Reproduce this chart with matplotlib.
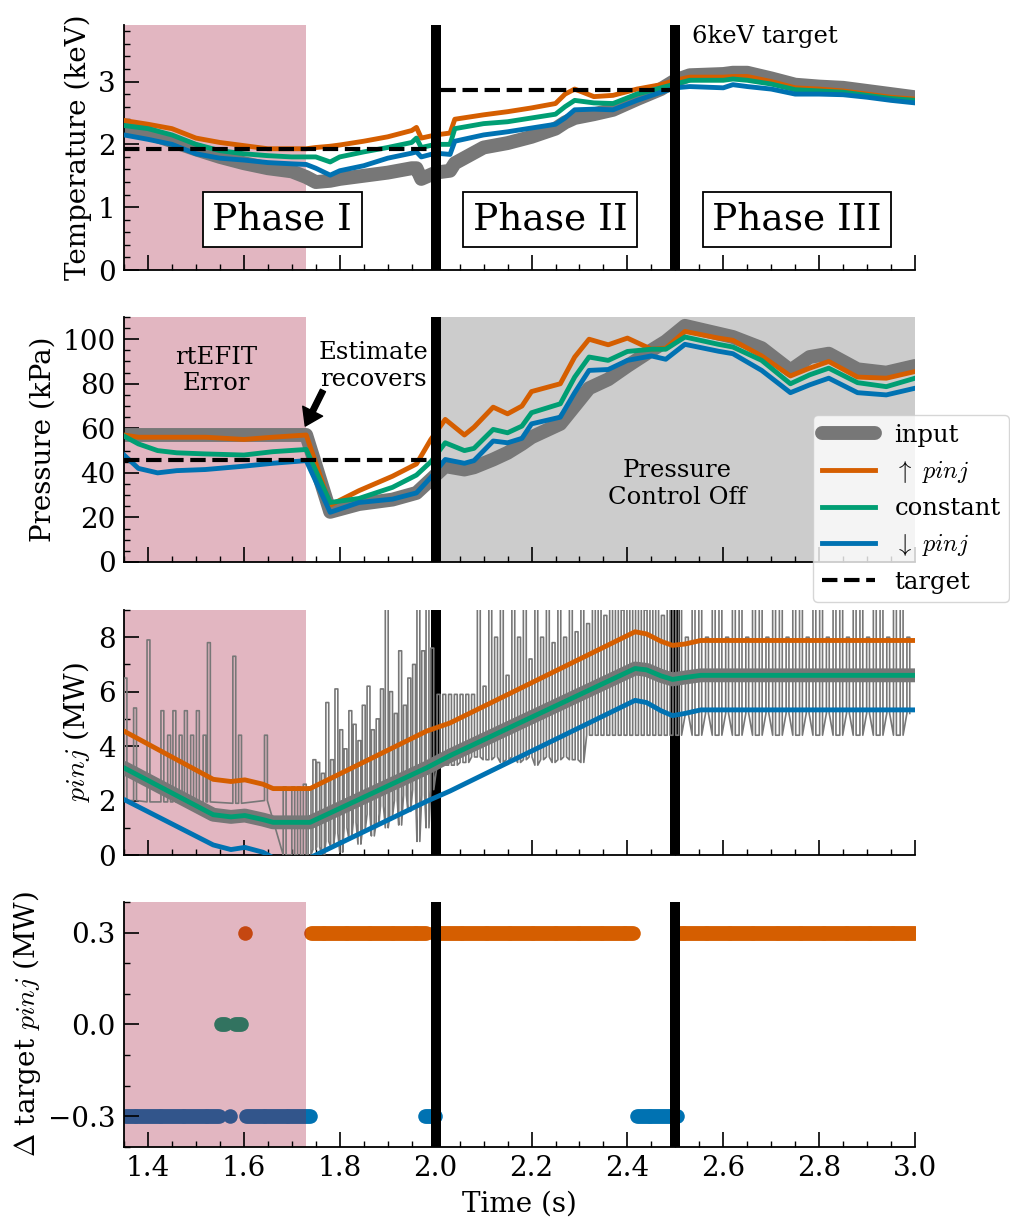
import numpy as np
import matplotlib.pyplot as plt
from matplotlib.ticker import MultipleLocator

plt.rcParams['font.family'] = ['DejaVu Serif']
plt.rcParams['mathtext.fontset'] = 'cm'

C_UP = '#d55e00'
C_CONST = '#009e73'
C_DOWN = '#0072b2'
C_IN = '#777777'
PINK = '#a21637'

# ---- temperature (keV)
t_T = [1.35, 1.40, 1.45, 1.50, 1.55, 1.60, 1.65, 1.70, 1.73, 1.75, 1.78, 1.80, 1.85, 1.90,
       1.95, 1.96, 1.97, 2.00, 2.03, 2.04, 2.10, 2.15, 2.20, 2.25, 2.27, 2.29, 2.33, 2.37,
       2.42, 2.47, 2.50, 2.53, 2.60, 2.62, 2.65, 2.70, 2.75, 2.80, 2.85, 2.90, 2.95, 3.00]
T_input = [2.25, 2.18, 2.05, 1.92, 1.80, 1.70, 1.62, 1.57, 1.48, 1.40, 1.42, 1.45, 1.50, 1.55,
           1.62, 1.62, 1.45, 1.55, 1.58, 1.70, 1.95, 2.02, 2.12, 2.25, 2.35, 2.42, 2.48, 2.55,
           2.72, 2.88, 3.02, 3.10, 3.12, 3.14, 3.14, 3.05, 2.95, 2.92, 2.90, 2.85, 2.80, 2.75]
T_up = [2.38, 2.32, 2.25, 2.10, 2.03, 1.98, 1.93, 1.93, 1.93, 1.95, 1.97, 1.99, 2.05, 2.12,
        2.22, 2.27, 2.10, 2.15, 2.18, 2.40, 2.47, 2.52, 2.58, 2.65, 2.80, 2.88, 2.76, 2.78,
        2.88, 2.95, 3.02, 3.07, 3.07, 3.08, 3.08, 3.00, 2.90, 2.88, 2.85, 2.80, 2.75, 2.72]
T_const = [2.30, 2.25, 2.15, 2.00, 1.90, 1.85, 1.82, 1.80, 1.80, 1.80, 1.72, 1.80, 1.88, 1.95,
           2.03, 2.10, 1.95, 2.00, 2.00, 2.25, 2.33, 2.36, 2.42, 2.48, 2.60, 2.70, 2.66, 2.65,
           2.80, 2.90, 2.96, 3.02, 3.02, 3.04, 3.02, 2.96, 2.87, 2.85, 2.83, 2.78, 2.73, 2.70]
T_down = [2.15, 2.08, 2.00, 1.85, 1.78, 1.75, 1.71, 1.69, 1.68, 1.62, 1.51, 1.58, 1.66, 1.78,
          1.86, 1.88, 1.80, 1.86, 1.84, 2.05, 2.15, 2.20, 2.26, 2.32, 2.42, 2.55, 2.56, 2.55,
          2.70, 2.83, 2.90, 2.92, 2.90, 2.95, 2.92, 2.88, 2.80, 2.80, 2.79, 2.75, 2.70, 2.66]
T_target_t = [1.35, 2.0, 2.0, 2.5]
T_target = [1.93, 1.93, 2.87, 2.87]

# ---- pressure (kPa)
t_P = [1.35, 1.38, 1.42, 1.46, 1.52, 1.60, 1.66, 1.73, 1.78, 1.84, 1.91, 1.96, 1.99, 2.02,
       2.06, 2.08, 2.12, 2.15, 2.18, 2.20, 2.26, 2.29, 2.32, 2.36, 2.40, 2.45, 2.48, 2.52,
       2.59, 2.62, 2.68, 2.74, 2.78, 2.82, 2.88, 2.94, 3.00]
P_input = [57, 57, 57, 57, 57, 57, 57, 57, 22.5, 26, 28, 31, 37, 43,
           41.5, 42.5, 46, 49, 53, 56, 62, 70, 78, 82, 88, 95, 99, 106,
           102.5, 101, 96, 86, 92, 93.5, 86.5, 85, 88]
P_up = [57, 56, 56, 56, 56, 55, 56, 57, 25.5, 32, 38.5, 44, 55, 64,
        57, 60.5, 69.5, 66.5, 70, 76.5, 80, 92, 100, 97.5, 100.5, 95.5, 96, 103.5,
        100.5, 99.5, 92.5, 83.5, 87, 90, 83, 82.5, 85.5]
P_const = [56.5, 53, 50, 49, 48.5, 48, 49.5, 50.5, 26.7, 28.5, 33.5, 39, 45, 53.5,
           50, 51, 59.5, 58, 61, 67, 71, 83, 92, 90.5, 94.5, 95.5, 95.5, 101,
           97.7, 96.5, 90.5, 80, 84, 87, 80.5, 78.7, 82.5]
P_down = [48, 42, 40, 41, 41.5, 43, 44.3, 45.5, 22.3, 26.7, 28.2, 31, 38, 46,
          44.3, 45.5, 54.3, 53.5, 55.5, 62, 65, 76, 86, 86.4, 90.5, 92.5, 91, 97.7,
          94.6, 93.5, 86, 76, 79.5, 82.5, 76, 75, 78]
P_target_t = [1.35, 2.0]
P_target = [45.7, 45.7]

# ---- injected power (MW)
t_pinj = [1.35, 1.536, 1.573, 1.602, 1.64, 1.661, 1.738, 1.981, 2.03, 2.416, 2.44, 2.47,
          2.494, 2.52, 2.553, 3.0]
pinj_up = [4.55, 2.78, 2.70, 2.76, 2.60, 2.44, 2.44, 4.55, 4.85, 8.20, 8.12, 7.85,
           7.70, 7.75, 7.88, 7.88]
pinj_const = [3.20, 1.48, 1.40, 1.45, 1.30, 1.20, 1.20, 3.20, 3.65, 6.85, 6.80, 6.58,
              6.45, 6.52, 6.60, 6.60]
pinj_input = [3.20, 1.48, 1.40, 1.45, 1.30, 1.20, 1.20, 3.20, 3.65, 6.85, 6.80, 6.58,
              6.45, 6.52, 6.60, 6.60]
pinj_down = [2.04, 0.37, 0.20, 0.28, 0.10, -0.10, -0.10, 1.97, 2.35, 5.68, 5.60, 5.30,
             5.12, 5.20, 5.33, 5.33]

# measured beam power: pulses (on time, high level, low level)
pulse_on = [1.350, 1.370, 1.398, 1.427, 1.441, 1.452, 1.465, 1.476, 1.489, 1.501, 1.515, 1.524,
            1.577, 1.589, 1.643, 1.682, 1.700, 1.712, 1.724, 1.734,
            1.744, 1.752, 1.762, 1.771, 1.781, 1.790, 1.800, 1.809, 1.819, 1.828, 1.838, 1.847,
            1.857, 1.866, 1.876, 1.885, 1.895, 1.904, 1.914, 1.923, 1.933, 1.942, 1.952, 1.961,
            1.971, 1.980, 1.990,
            2.003, 2.015, 2.027, 2.039, 2.051, 2.063, 2.075, 2.087, 2.099, 2.111, 2.123, 2.135,
            2.147, 2.159, 2.171, 2.183, 2.195, 2.207, 2.219, 2.231, 2.243, 2.255, 2.267, 2.279,
            2.291, 2.303, 2.315, 2.327, 2.339, 2.351, 2.363, 2.375, 2.387, 2.399, 2.411, 2.423,
            2.435, 2.447, 2.459, 2.471, 2.483, 2.495,
            2.507, 2.521, 2.535, 2.549, 2.563, 2.577, 2.591, 2.605, 2.619, 2.633, 2.647, 2.661,
            2.675, 2.689, 2.703, 2.717, 2.731, 2.745, 2.759, 2.773, 2.787, 2.801, 2.815, 2.829,
            2.843, 2.857, 2.871, 2.885, 2.899, 2.913, 2.927, 2.941, 2.955, 2.969, 2.983]
pulse_hi = [6.5, 5.4, 7.9, 5.3, 4.4, 5.3, 4.4, 5.3, 4.4, 5.3, 4.4, 7.8,
            7.3, 4.4, 4.4, 2.5, 2.5, 2.5, 2.6, 2.5,
            3.5, 3.4, 3.0, 5.6, 3.5, 6.1, 4.6, 3.9, 5.3, 4.8, 4.2, 5.5,
            6.2, 4.6, 5.0, 6.1, 9.5, 6.0, 5.2, 7.5, 5.5, 6.5, 7.0, 9.5,
            7.5, 9.5, 7.6,
            5.9, 5.9, 5.9, 5.9, 5.9, 5.9, 5.9, 9.5, 6.2, 9.5, 8.0, 9.5,
            6.6, 9.5, 8.0, 9.5, 7.2, 9.5, 8.0, 9.5, 7.8, 9.5, 8.0, 9.5,
            8.2, 9.5, 8.5, 9.5, 9.5, 8.8, 9.5, 9.5, 9.0, 9.5, 9.5, 9.5,
            9.0, 9.5, 9.5, 8.8, 9.5, 9.5,
            9.5, 8.0, 9.5, 9.5, 8.0, 9.5, 9.5, 8.0, 9.5, 9.5, 8.0, 9.5,
            9.5, 8.0, 9.5, 9.5, 8.0, 9.5, 9.5, 8.0, 9.5, 9.5, 8.0, 9.5,
            9.5, 8.0, 9.5, 9.5, 8.0, 9.5, 9.5, 8.0, 9.5, 9.5, 8.0]
pulse_lo = [2.0, 2.0, 1.95, 1.95, 1.95, 1.95, 1.95, 1.95, 1.95, 1.95, 1.95, 1.95,
            1.9, 1.9, 2.0, 0.0, 0.0, 0.0, 0.0, 0.0,
            0.2, 0.3, 0.0, 0.5, 0.3, 0.8, 0.1, 1.0, 0.6, 1.2, 0.4, 0.9,
            1.5, 0.7, 1.2, 1.8, 1.0, 1.4, 2.0, 1.1, 2.2, 1.6, 2.4, 0.5,
            2.2, 1.0, 2.4,
            3.3, 3.3, 3.3, 3.3, 3.4, 3.4, 3.6, 3.6, 3.5, 3.5, 3.6, 3.4,
            3.5, 3.6, 3.4, 3.5, 3.6, 3.3, 3.5, 3.6, 3.4, 3.5, 3.6, 3.5,
            3.5, 3.4, 4.4, 4.4, 4.4, 4.4, 4.4, 4.4, 4.4, 4.4, 4.4, 4.4,
            4.4, 4.4, 4.4, 4.4, 4.4, 4.4,
            4.4, 5.2, 4.4, 4.4, 5.2, 4.4, 4.4, 5.2, 4.4, 4.4, 5.2, 4.4,
            4.4, 5.2, 4.4, 4.4, 5.2, 4.4, 4.4, 5.2, 4.4, 4.4, 5.2, 4.4,
            4.4, 5.2, 4.4, 4.4, 5.2, 4.4, 4.4, 5.2, 4.4, 4.4, 5.2]
pulse_len = 0.006

# ---- change in target pinj: runs of (start, end, value)
run_start = [1.352, 1.571, 1.605, 1.553, 1.582, 1.602, 1.740, 1.978, 1.996, 2.420, 2.503]
run_end = [1.548, 1.571, 1.738, 1.562, 1.594, 1.602, 1.982, 1.998, 2.414, 2.504, 3.000]
run_val = [-0.3, -0.3, -0.3, 0.0, 0.0, 0.3, 0.3, -0.3, 0.3, -0.3, 0.3]
step_dt = 0.004

fig = plt.figure(figsize=(10.1, 12.19), dpi=100)
ax1 = fig.add_axes([0.1228, 0.7785, 0.7832, 0.201])
ax2 = fig.add_axes([0.1228, 0.5390, 0.7832, 0.201])
ax3 = fig.add_axes([0.1228, 0.2986, 0.7832, 0.201])
ax4 = fig.add_axes([0.1228, 0.0591, 0.7832, 0.201])
axes = [ax1, ax2, ax3, ax4]

TXT = 17.5
for ax in axes:
    ax.set_xlim(1.35, 3.0)
    ax.spines['top'].set_visible(False)
    ax.spines['right'].set_visible(False)
    for s in ['left', 'bottom']:
        ax.spines[s].set_linewidth(1.3)
    ax.xaxis.set_major_locator(MultipleLocator(0.2))
    ax.xaxis.set_minor_locator(MultipleLocator(0.05))
    ax.tick_params(which='both', direction='in', labelsize=20, pad=6)
    ax.tick_params(which='major', length=11, width=1.2)
    ax.tick_params(which='minor', length=4.5, width=1.0)
    if ax is not ax4:
        ax.tick_params(labelbottom=False)
    ax.axvspan(1.35, 1.73, color=PINK, alpha=0.31, lw=0, zorder=1)

# temperature
ax1.plot(t_T, T_input, color=C_IN, lw=10, solid_capstyle='round', zorder=2)
ax1.plot(t_T, T_up, color=C_UP, lw=3.5, zorder=3)
ax1.plot(t_T, T_const, color=C_CONST, lw=3.5, zorder=3)
ax1.plot(t_T, T_down, color=C_DOWN, lw=3.5, zorder=3)
ax1.plot(T_target_t, T_target, 'k--', lw=3, zorder=3)
for x in [2.0, 2.5]:
    ax1.axvline(x, color='k', lw=7.2, zorder=5)
ax1.set_ylim(0, 3.9)
ax1.yaxis.set_major_locator(MultipleLocator(1))
ax1.yaxis.set_minor_locator(MultipleLocator(0.2))
ax1.set_ylabel('Temperature (keV)', fontsize=20)
box = dict(boxstyle='square,pad=0.25', facecolor='white', edgecolor='k', lw=1.3)
for x, s in [(1.68, 'Phase I'), (2.239, 'Phase II'), (2.754, 'Phase III')]:
    ax1.text(x, 0.80, s, fontsize=27, ha='center', va='center', bbox=box, zorder=6)
ax1.text(2.535, 3.72, '6keV target', fontsize=TXT, ha='left', va='center', zorder=6)

# pressure
ax2.axvspan(2.0, 3.0, color='k', alpha=0.2, lw=0, zorder=1)
ax2.plot(t_P, P_input, color=C_IN, lw=10, solid_capstyle='round', zorder=2, label='input')
ax2.plot(t_P, P_up, color=C_UP, lw=3.5, zorder=3, label=r'$\uparrow$ $pinj$')
ax2.plot(t_P, P_const, color=C_CONST, lw=3.5, zorder=3, label='constant')
ax2.plot(t_P, P_down, color=C_DOWN, lw=3.5, zorder=3, label=r'$\downarrow$ $pinj$')
ax2.plot(P_target_t, P_target, 'k--', lw=3, zorder=3, label='target')
ax2.axvline(2.0, color='k', lw=7.2, zorder=5)
ax2.set_ylim(0, 110)
ax2.yaxis.set_major_locator(MultipleLocator(20))
ax2.yaxis.set_minor_locator(MultipleLocator(5))
ax2.set_ylabel('Pressure (kPa)', fontsize=20)
ax2.text(1.542, 86, 'rtEFIT\nError', fontsize=TXT, ha='center', va='center')
ax2.text(1.871, 88, 'Estimate\nrecovers', fontsize=TXT, ha='center', va='center')
ax2.text(2.503, 35, 'Pressure\nControl Off', fontsize=TXT, ha='center', va='center')
ax2.annotate('', xy=(1.728, 61), xytext=(1.765, 77),
             arrowprops=dict(facecolor='k', edgecolor='k', width=4, headwidth=16, headlength=12))
leg = ax2.legend(loc='upper left', bbox_to_anchor=(0.871, 0.598), fontsize=TXT,
                 handlelength=2.2, borderpad=0.35, labelspacing=0.5, handletextpad=0.8,
                 borderaxespad=0.0)
leg.set_zorder(10)

# injected power
noise_t, noise_v = [], []
for on, hi, lo in zip(pulse_on, pulse_hi, pulse_lo):
    noise_t += [on, on, on + pulse_len, on + pulse_len]
    noise_v += [lo, hi, hi, lo]
for x in [2.0, 2.5]:
    ax3.axvline(x, color='k', lw=7.2, zorder=2)
ax3.plot(noise_t, noise_v, color=C_IN, lw=1.2, zorder=3)
ax3.plot(t_pinj, pinj_input, color=C_IN, lw=10, solid_capstyle='round', zorder=3)
ax3.plot(t_pinj, pinj_up, color=C_UP, lw=3.5, zorder=4)
ax3.plot(t_pinj, pinj_const, color=C_CONST, lw=3.5, zorder=4)
ax3.plot(t_pinj, pinj_down, color=C_DOWN, lw=3.5, zorder=4)
ax3.set_ylim(0, 9)
ax3.yaxis.set_major_locator(MultipleLocator(2))
ax3.yaxis.set_minor_locator(MultipleLocator(1))
ax3.set_ylabel('$pinj$ (MW)', fontsize=20)

# change in target
colour_of = {0.3: C_UP, 0.0: C_CONST, -0.3: C_DOWN}
for a, b, v in zip(run_start, run_end, run_val):
    ts = np.arange(a, b + 1e-9, step_dt)
    ax4.scatter(ts, np.full(len(ts), v), s=110, color=colour_of[v], lw=0, zorder=0.5)
for x in [2.0, 2.5]:
    ax4.axvline(x, color='k', lw=7.2, zorder=5)
ax4.set_ylim(-0.4, 0.4)
ax4.set_yticks([-0.3, 0.0, 0.3])
ax4.yaxis.set_minor_locator(MultipleLocator(0.1))
ax4.set_ylabel(r'$\Delta$ target $pinj$ (MW)', fontsize=20)
ax4.set_xlabel('Time (s)', fontsize=20, labelpad=6)

fig.savefig('out.png', dpi=100)
